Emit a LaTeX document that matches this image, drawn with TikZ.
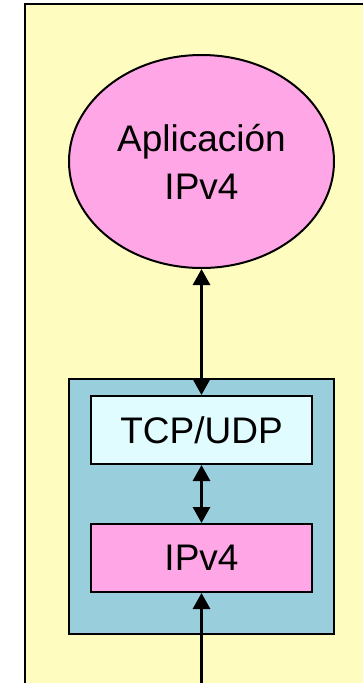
\documentclass[tikz,border=0pt]{standalone}
\usepackage{fontspec}
\setmainfont{Liberation Sans}
\usetikzlibrary{shapes.geometric,positioning,arrows.meta}
\definecolor{pad}{HTML}{FFFCC0}
\definecolor{pinkish}{HTML}{FFA6E6}
\definecolor{stackblue}{HTML}{99CFDD}
\definecolor{paleblue}{HTML}{E0FCFF}
\tikzset{
  layer/.style={draw, line width=2pt, minimum width=221pt, minimum height=68pt, inner sep=0pt, font=\fontsize{37}{40}\selectfont},
  link/.style={line width=3pt, {Triangle[width=17pt,length=16pt]}-{Triangle[width=17pt,length=16pt]}},
  uplink/.style={line width=3pt, -{Triangle[width=17pt,length=16pt]}}
}

\begin{document}
\begin{tikzpicture}[x=1pt, y=-1pt]
  \clip (0,0) rectangle (363,683);
  \fill[white] (0,0) rectangle (363,683);
  % Define nodes
  \draw[line width=2pt, fill=pad] (25,4) rectangle (400,720);
  \node[draw, line width=2pt, fill=stackblue, minimum width=265pt, minimum height=255pt, inner sep=0pt] (stack) at (201.5,506.5) {};
  \node[layer, fill=paleblue]          (tcp) at (201.5,430) {TCP/UDP};
  \node[layer, fill=pinkish, below=58pt of tcp] (ip) {IPv4};
  \node[ellipse, draw, line width=2pt, fill=pinkish, minimum width=265pt, minimum height=213pt, inner sep=0pt,
        align=center, font=\fontsize{37}{48}\selectfont, above=126pt of tcp] (app) {Aplicación\\IPv4};
  \coordinate (wire) at (201.5,700);
  % Define edges
  \draw[link] (app) -- (tcp);
  \draw[link] (tcp) -- (ip);
  \draw[uplink] (wire) -- (ip);
\end{tikzpicture}
\end{document}
